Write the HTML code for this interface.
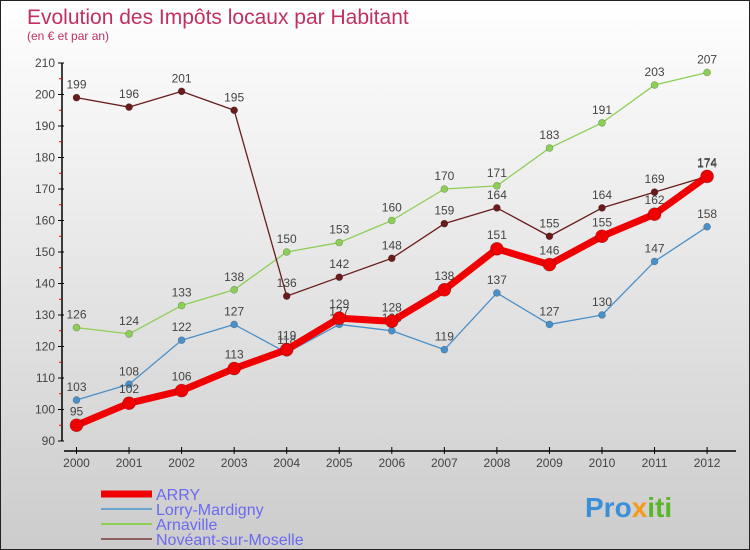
<!DOCTYPE html>
<html><head><meta charset="utf-8"><style>
body{margin:0}
#c{width:750px;height:550px;position:relative;box-sizing:border-box;border:1px solid #222;background:linear-gradient(#fff,#ccc);font-family:"Liberation Sans",sans-serif;overflow:hidden}
</style></head><body>
<div id="c">
<svg width="750" height="550" style="position:absolute;left:0;top:0" id="s">
<text x="26" y="23" font-size="21" fill="#c2305f">Evolution des Impôts locaux par Habitant</text>
<text x="26" y="39" font-size="12" fill="#c2305f">(en € et par an)</text>
<text x="584" y="516" font-size="28" font-weight="bold" fill="#3a8fd8">Pro<tspan fill="#f39a1a">x</tspan><tspan fill="#5ab52a">iti</tspan></text>
<g id="g"></g>
</svg>
</div>
<script>
const years=[2000,2001,2002,2003,2004,2005,2006,2007,2008,2009,2010,2011,2012];
const yTicks=[90,100,110,120,130,140,150,160,170,180,190,200,210];
const arry=[95,102,106,113,119,129,128,138,151,146,155,162,174];
const lorry=[103,108,122,127,118,127,125,119,137,127,130,147,158];
const arnaville=[126,124,133,138,150,153,160,170,171,183,191,203,207];
const noveant=[199,196,201,195,136,142,148,159,164,155,164,169,174];
const names=["ARRY","Lorry-Mardigny","Arnaville","Novéant-sur-Moselle"];
const NS="http://www.w3.org/2000/svg";
const g=document.getElementById('g');
function X(i){return 75.5+i*52.55;}
function Y(v){return 440-(v-90)*3.15;}
function mk(t,a,p){const e=document.createElementNS(NS,t);for(const k in a)e.setAttribute(k,a[k]);(p||g).appendChild(e);return e;}
let ax=mk('line',{x1:61,y1:Y(210),x2:61,y2:440,stroke:'#000','stroke-width':1.5});


yTicks.forEach((v,i)=>{
  mk('line',{x1:57,y1:Y(v),x2:63,y2:Y(v),stroke:'#000'});
  if(i<yTicks.length-1) mk('line',{x1:58,y1:Y(v+5),x2:61,y2:Y(v+5),stroke:'#e00'});
  const t=mk('text',{x:54,y:Y(v)+4,'font-size':12,fill:'#444','text-anchor':'end'});t.textContent=v;
  
  
});
let xa=mk('line',{x1:63,y1:450,x2:735,y2:450,stroke:'#000','stroke-width':1.5});


years.forEach((y,i)=>{
  mk('line',{x1:X(i),y1:446,x2:X(i),y2:453,stroke:'#000'});
  const t=mk('text',{x:X(i),y:466,'font-size':12,fill:'#444','text-anchor':'middle'});t.textContent=y;
  
  
});
function series(data,color,w,r,name,lab){
  const sg=mk('g',{});
  
  
  mk('polyline',{points:data.map((v,i)=>X(i)+','+Y(v)).join(' '),fill:'none',stroke:color,'stroke-width':w,'stroke-linejoin':'round'},sg);
  data.forEach((v,i)=>{
    const c=mk('circle',{cx:X(i),cy:Y(v),r:r,fill:color,stroke:'rgba(0,0,0,0.3)','stroke-width':0.6},sg);
    
    
    const t=mk('text',{x:X(i),y:Y(v)+lab,'font-size':12,fill:'#444','text-anchor':'middle'},sg);t.textContent=v;
  });
}
series(lorry,'#4a90c8',1.3,3.5,'lorry-series',-9);
series(arnaville,'#8ccf55',1.3,3.5,'arnaville-series',-9);
series(noveant,'#6a1c1c',1.3,3.5,'noveant-series',-9);
series(arry,'#f00000',7,6.5,'arry-series',-10);
const lc=['#f00000','#6aa6d0','#8ccf55','#906060'],lw=[7,2,2,2];
names.forEach((n,i)=>{
  const y=493+i*15;
  const l=mk('line',{x1:100,y1:y,x2:151,y2:y,stroke:lc[i],'stroke-width':lw[i]});
  
  
  const t=mk('text',{x:155,y:y+6,'font-size':16,fill:'#6a6af0'});t.textContent=n;
  
  
});
</script>
</body></html>
